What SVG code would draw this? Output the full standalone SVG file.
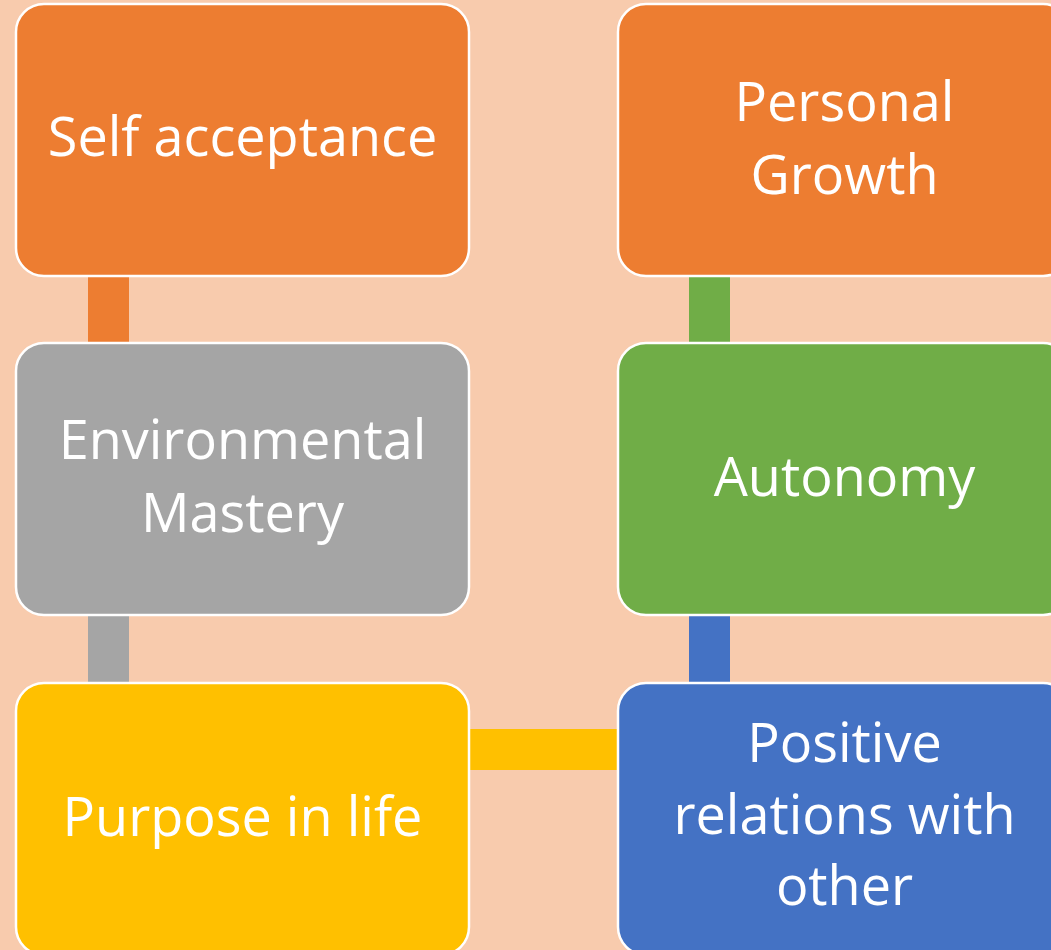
<svg xmlns="http://www.w3.org/2000/svg" width="1051" height="950" viewBox="0 0 1051 950">
<style>
.box{stroke:#FFFFFF;stroke-width:2.5}
.t{font-family:"Open Sans","DejaVu Sans",sans-serif;font-size:54px;fill:#FFFFFF;text-anchor:middle}
</style>
<rect x="0" y="0" width="1051" height="950" fill="#F8CBAD"/>
<g id="connectors">
<rect x="88" y="276" width="41" height="67" fill="#ED7D31"/>
<rect x="88" y="615" width="41" height="68" fill="#A5A5A5"/>
<rect x="689" y="276" width="41" height="67" fill="#70AD47"/>
<rect x="689" y="615" width="41" height="68" fill="#4472C4"/>
<rect x="469" y="729" width="149" height="41" fill="#FFC000"/>
</g>
<g id="self-acceptance">
<rect class="box" x="16" y="4" width="453" height="272" rx="28" fill="#ED7D31"/>
<text class="t" x="242.5" y="156">Self acceptance</text>
</g>
<g id="personal-growth">
<rect class="box" x="618" y="4" width="453" height="272" rx="28" fill="#ED7D31"/>
<text class="t" x="844.5" y="121">Personal</text>
<text class="t" x="844.5" y="194">Growth</text>
</g>
<g id="environmental-mastery">
<rect class="box" x="16" y="343" width="453" height="272" rx="28" fill="#A5A5A5"/>
<text class="t" x="242.5" y="459">Environmental</text>
<text class="t" x="242.5" y="532">Mastery</text>
</g>
<g id="autonomy">
<rect class="box" x="618" y="343" width="453" height="272" rx="28" fill="#70AD47"/>
<text class="t" x="844.5" y="496">Autonomy</text>
</g>
<g id="purpose-in-life">
<rect class="box" x="16" y="683" width="453" height="272" rx="28" fill="#FFC000"/>
<text class="t" x="242.5" y="836">Purpose in life</text>
</g>
<g id="positive-relations">
<rect class="box" x="618" y="683" width="453" height="272" rx="28" fill="#4472C4"/>
<text class="t" x="844.5" y="762">Positive</text>
<text class="t" x="844.5" y="834">relations with</text>
<text class="t" x="844.5" y="905">other</text>
</g>
</svg>
